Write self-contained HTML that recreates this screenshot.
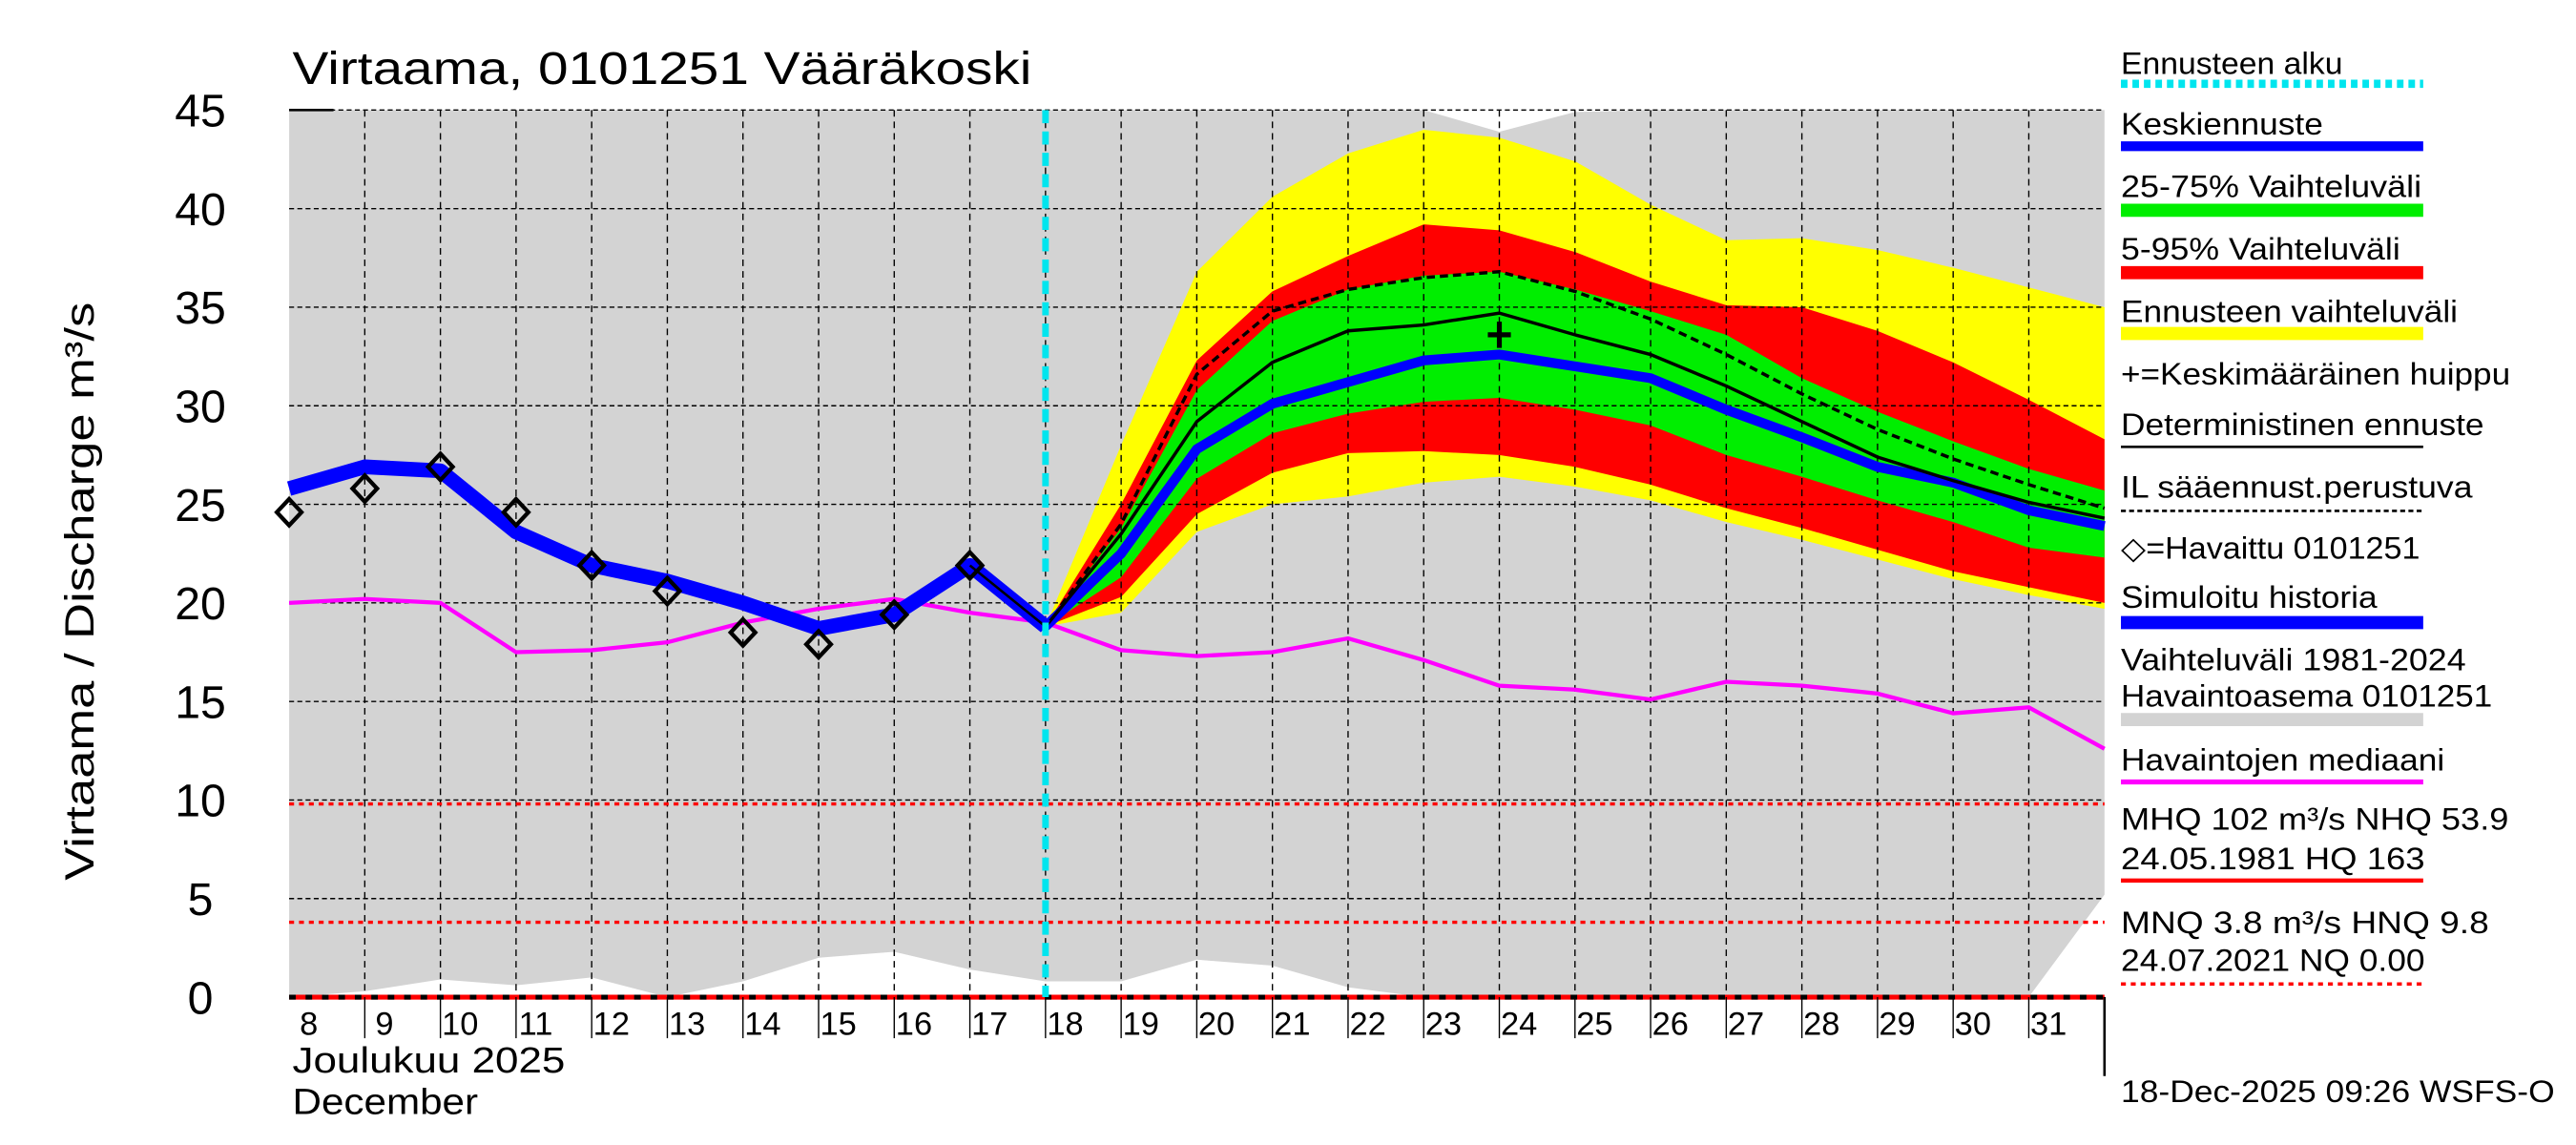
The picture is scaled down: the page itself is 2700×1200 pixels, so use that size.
<!DOCTYPE html>
<html><head><meta charset="utf-8"><style>
html,body{margin:0;padding:0;background:#fff}
svg{display:block}
text{font-family:"Liberation Sans",sans-serif;fill:#000}
</style></head><body>
<svg id="chart" width="2700" height="1200" viewBox="0 0 1568 697" preserveAspectRatio="none" xmlns="http://www.w3.org/2000/svg">
<g id="plot"></g>
<g id="axes"></g>
<g id="legend"></g>
</svg>
<script>
const days=[8,9,10,11,12,13,14,15,16,17,18,19,20,21,22,23,24,25,26,27,28,29,30,31,32];
const histDays=[8,9,10,11,12,13,14,15,16,17,18];
const simHistory=[25.8,26.9,26.7,23.6,21.9,21.1,20.0,18.7,19.4,21.9,18.8];
const obsDays=[8,9,10,11,12,13,14,15,16,17];
const observed=[24.6,25.8,26.9,24.6,21.9,20.6,18.5,17.9,19.4,21.9];
const median=[20.0,20.2,20.0,17.5,17.6,18.0,19.0,19.7,20.2,19.5,19.0,17.6,17.3,17.5,18.2,17.1,15.8,15.6,15.1,16.0,15.8,15.4,14.4,14.7,12.6];
const greyUpper=[45,45,45,45,45,45,45,45,45,45,45,45,45,45,45,45,43.9,44.9,45,45,45,45,45,45,45];
const greyLower=[0,0.3,0.9,0.6,1.0,0,0.8,2.0,2.3,1.4,0.8,0.8,1.9,1.6,0.5,0,0,0,0,0,0,0,0,0,5.2];
const fcDays=[18,19,20,21,22,23,24,25,26,27,28,29,30,31,32];
const yellowHi=[18.8,28.0,36.8,40.6,42.8,44.0,43.6,42.4,40.2,38.4,38.5,37.9,37.0,36.0,35.0];
const redHi=[18.8,25.0,32.3,35.8,37.6,39.2,38.9,37.8,36.3,35.1,35.0,33.8,32.2,30.3,28.3];
const greenHi=[18.8,23.8,30.8,34.3,35.9,36.6,36.8,35.9,34.8,33.6,31.4,29.7,28.2,26.8,25.7];
const greenLo=[18.8,21.3,26.3,28.6,29.6,30.2,30.4,29.8,29.0,27.5,26.4,25.2,24.1,22.8,22.3];
const redLo=[18.8,20.3,24.5,26.6,27.6,27.7,27.5,26.9,26.0,24.8,23.8,22.7,21.6,20.8,20.0];
const yellowLo=[18.8,19.5,23.6,25.0,25.4,26.1,26.4,25.9,25.2,24.1,23.2,22.2,21.2,20.4,19.7];
const ilForecast=[18.8,24.0,31.6,34.8,35.9,36.5,36.8,35.8,34.4,32.6,30.6,28.8,27.3,26.0,24.8];
const detForecast=[18.8,23.5,29.2,32.2,33.8,34.1,34.7,33.6,32.6,31.0,29.2,27.4,26.2,25.1,24.3];
const meanForecast=[18.8,22.5,27.8,30.1,31.2,32.3,32.6,32.0,31.4,29.8,28.4,26.9,26.1,24.7,23.9];
const peakDay=[24];
const peakValue=[33.6];
const yTicks=[0,5,10,15,20,25,30,35,40,45];
const xTickLabels=["8","9","10","11","12","13","14","15","16","17","18","19","20","21","22","23","24","25","26","27","28","29","30","31"];
const forecastStart=18;
const mhqLine=[9.8];
const mnqLine=[3.8];

const X0=176,DX=46.04,Y0=607,DY=12;
const xs=d=>X0+(d-8)*DX;
const ys=v=>Y0-v*DY;
const NS="http://www.w3.org/2000/svg";
function mk(tag,attrs,parent){const e=document.createElementNS(NS,tag);for(const k in attrs)e.setAttribute(k,attrs[k]);parent.appendChild(e);return e;}
const plot=document.getElementById('plot'),axes=document.getElementById('axes'),leg=document.getElementById('legend');
const pts=(ds,vs)=>ds.map((d,i)=>xs(d).toFixed(1)+','+ys(vs[i]).toFixed(1)).join(' ');
const band=(ds,hi,lo)=>pts(ds,hi)+' '+pts(ds.slice().reverse(),lo.slice().reverse());

let e;
e=mk('polygon',{points:band(days,greyUpper,greyLower),fill:'#d3d3d3'},plot);


e=mk('polygon',{points:band(fcDays,yellowHi,yellowLo),fill:'#ffff00'},plot);


e=mk('polygon',{points:band(fcDays,redHi,redLo),fill:'#ff0000'},plot);


e=mk('polygon',{points:band(fcDays,greenHi,greenLo),fill:'#00ee00'},plot);



for(const t of yTicks){if(t===0)continue;
e=mk('line',{x1:X0,x2:1281,y1:ys(t),y2:ys(t),stroke:'#000','stroke-width':0.8,'stroke-dasharray':'3,2'},plot);

}
for(let d=9;d<32;d++){
e=mk('line',{x1:xs(d),x2:xs(d),y1:ys(45),y2:Y0,stroke:'#000','stroke-width':0.8,'stroke-dasharray':'4,3'},plot);

}

e=mk('line',{x1:X0,x2:1281,y1:ys(mhqLine[0]),y2:ys(mhqLine[0]),stroke:'#ff0000','stroke-width':2,'stroke-dasharray':'3,3'},plot);


e=mk('line',{x1:X0,x2:1281,y1:ys(mnqLine[0]),y2:ys(mnqLine[0]),stroke:'#ff0000','stroke-width':2,'stroke-dasharray':'3,3'},plot);


e=mk('line',{x1:X0,x2:1281,y1:Y0,y2:Y0,stroke:'#ff0000','stroke-width':3},plot);


e=mk('line',{x1:X0,x2:1281,y1:Y0,y2:Y0,stroke:'#000','stroke-width':3,'stroke-dasharray':'4,6'},plot);



e=mk('polyline',{points:pts(days,median),fill:'none',stroke:'#ff00ff','stroke-width':2.5},plot);


e=mk('polyline',{points:pts(fcDays,ilForecast),fill:'none',stroke:'#000','stroke-width':2,'stroke-dasharray':'5,3'},plot);


e=mk('polyline',{points:pts(fcDays,meanForecast),fill:'none',stroke:'#0000ff','stroke-width':6},plot);


e=mk('polyline',{points:pts(fcDays,detForecast),fill:'none',stroke:'#000','stroke-width':2},plot);


e=mk('polyline',{points:pts(histDays,simHistory),fill:'none',stroke:'#0000ff','stroke-width':9,'stroke-linejoin':'round'},plot);


e=mk('polyline',{points:pts(histDays.slice(-2),simHistory.slice(-2)),fill:'none',stroke:'#000','stroke-width':1.5},plot);


obsDays.forEach((d,i)=>{const x=xs(d),y=ys(observed[i]);
const p=mk('polygon',{points:`${x},${y-8} ${x+7.5},${y} ${x},${y+8} ${x-7.5},${y}`,fill:'none',stroke:'#000','stroke-width':2.5},plot);

});
peakDay.forEach((d,i)=>{const x=xs(d),y=ys(peakValue[i]);
const p=mk('path',{d:`M${x-7},${y}H${x+7}M${x},${y-8}V${y+8}`,stroke:'#000','stroke-width':3},plot);

});
e=mk('line',{x1:xs(forecastStart),x2:xs(forecastStart),y1:ys(45),y2:Y0,stroke:'#00e5ee','stroke-width':4,'stroke-dasharray':'8,5'},plot);



e=mk('line',{x1:1281,x2:1281,y1:Y0,y2:655,stroke:'#000','stroke-width':1.5},axes);


e=mk('line',{x1:176,x2:203,y1:ys(45),y2:ys(45),stroke:'#000','stroke-width':1.5},axes);


for(const t of yTicks){
e=mk('text',{x:122,y:ys(t)+10,'font-size':28,'text-anchor':'middle'},axes);e.textContent=String(t);

}
xTickLabels.forEach((l,i)=>{const d=8+i;
e=mk('text',{x:xs(d)+12,y:630,'font-size':20,'text-anchor':'middle'},axes);e.textContent=l;


if(d>8){const t=mk('line',{x1:xs(d),x2:xs(d),y1:Y0,y2:632,stroke:'#000','stroke-width':0.8},axes);

}});
function txt(s,x,y,fs,len,parent,name){const t=mk('text',{x:x,y:y,'font-size':fs},parent);if(len){t.setAttribute('textLength',len);t.setAttribute('lengthAdjust','spacingAndGlyphs');}t.textContent=s;

return t;}
txt('Joulukuu  2025',178,653,22,166,axes,'month-label-fi');
txt('December',178,678,22,113,axes,'month-label-en');
txt('Virtaama, 0101251 Vääräkoski',178,51,28,450,axes,'chart-title');
e=mk('text',{x:0,y:0,'font-size':25,'text-anchor':'middle',transform:'translate(57,360) rotate(-90)',textLength:352,lengthAdjust:'spacingAndGlyphs','xml:space':'preserve'},axes);
e.textContent='Virtaama / Discharge      m³/s';


txt('18-Dec-2025 09:26 WSFS-O',1291,671,19,264,axes,'timestamp');

const L=[
['Ennusteen alku',45,135,'#00e5ee',5,'4,3',51,'legend-forecast-start'],
['Keskiennuste',82,123,'#0000ff',6,null,89,'legend-mean-forecast'],
['25-75% Vaihteluväli',120,183,'#00ee00',8,null,128,'legend-band-25-75'],
['5-95% Vaihteluväli',158,170,'#ff0000',8,null,166,'legend-band-5-95'],
['Ennusteen vaihteluväli',196,205,'#ffff00',8,null,203,'legend-forecast-range'],
['+=Keskimääräinen huippu',234,237,null,0,null,0,'legend-mean-peak'],
['Deterministinen ennuste',265,221,'#000',1.5,null,272,'legend-deterministic'],
['IL sääennust.perustuva',303,214,'#000',1.5,'3,2',311,'legend-il-forecast'],
['◇=Havaittu 0101251',340,182,null,0,null,0,'legend-observed'],
['Simuloitu historia',370,156,'#0000ff',8,null,379,'legend-simulated-history'],
['Vaihteluväli 1981-2024',408,210,null,0,null,0,'legend-range-years'],
['Havaintoasema 0101251',430,226,'#d3d3d3',8,null,438,'legend-station-range'],
['Havaintojen mediaani',469,197,'#ff00ff',3,null,476,'legend-median'],
['MHQ  102 m³/s NHQ 53.9',505,236,null,0,null,0,'legend-mhq'],
['24.05.1981 HQ  163',529,185,'#ff0000',2.5,null,536,'legend-hq'],
['MNQ  3.8 m³/s HNQ  9.8',568,224,null,0,null,0,'legend-mnq'],
['24.07.2021 NQ 0.00',591,185,'#ff0000',2,'3,3',599,'legend-nq']];
for(const [s,y,len,col,w,da,ly,nm] of L){
const g=mk('g',{},leg);


txt(s,1291,y,19,len,g,nm+'-text');
if(col){const a={x1:1291,x2:1475,y1:ly,y2:ly,stroke:col,'stroke-width':w};if(da)a['stroke-dasharray']=da;
const ln=mk('line',a,g);

}}
</script>
</body></html>
